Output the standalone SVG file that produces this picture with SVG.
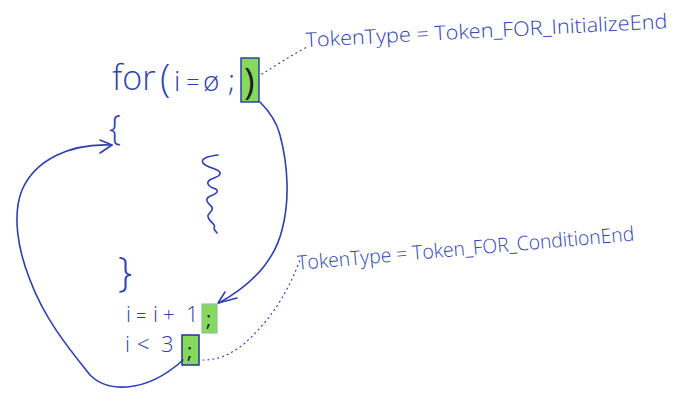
<svg xmlns="http://www.w3.org/2000/svg" width="700" height="405" viewBox="0 0 700 405">
<style>
.code{font-family:"Open Sans","Liberation Sans",sans-serif;font-weight:300;fill:#2f3fae;}
.lbl{font-family:"Open Sans","Liberation Sans",sans-serif;font-weight:300;fill:#2f3fae;font-size:20px;}
.semi{font-family:"Open Sans","Liberation Sans",sans-serif;font-weight:400;fill:#1a1a2a;}
.line{fill:none;stroke:#2f3fae;stroke-width:1.6;stroke-linecap:round;stroke-linejoin:round;}
.dots{fill:none;stroke:#2f3fae;stroke-width:1.2;stroke-dasharray:1 4;stroke-linecap:round;}
.hl{fill:#86d95a;}
</style>
<rect width="700" height="405" fill="#ffffff"/>
<g id="init-code">
  <text class="code" x="112" y="90" font-size="34">for</text>
  <text class="code" x="160" y="92" font-size="38">(</text>
  <text class="code" x="174" y="91" font-size="28">i</text>
  <text class="code" x="186" y="91" font-size="24">=</text>
  <text class="code" x="203" y="91" font-size="28">ø</text>
  <text class="code" x="228" y="91" font-size="30">;</text>
  <rect class="hl" x="241" y="58" width="18" height="44" stroke="#2436a8" stroke-width="1.4"/>
  <text class="semi" x="244" y="94" font-size="36">)</text>
</g>
<g id="open-brace">
  <text class="code" x="109" y="140" font-size="34">{</text>
</g>
<g id="body">
  <path class="line" d="M218,155 C210,156 200,158 203,163 C206,168 222,169 220,174 C218,179 206,178 208,184 C210,189 219,188 217,192 C215,196 205,196 207,201 C209,206 214,206 212,210 C210,214 206,214 209,219 C212,224 216,224 214,229 L217,233"/>
</g>
<g id="close-brace">
  <text class="code" x="118" y="286" font-size="40">}</text>
</g>
<g id="increment">
  <text class="code" x="126" y="322" font-size="22">i</text>
  <text class="code" x="136" y="322" font-size="18">=</text>
  <text class="code" x="153" y="322" font-size="22">i</text>
  <text class="code" x="163" y="322" font-size="20">+</text>
  <text class="code" x="186" y="322" font-size="22">1</text>
  <rect class="hl" x="202" y="304" width="15" height="29" stroke="#8fbcaa" stroke-width="1.2"/>
  <text class="semi" x="206" y="326" font-size="20">;</text>
</g>
<g id="condition">
  <text class="code" x="125" y="352" font-size="22">i</text>
  <text class="code" x="137" y="352" font-size="22">&lt;</text>
  <text class="code" x="161" y="352" font-size="22">3</text>
  <rect class="hl" x="182" y="335" width="17" height="30" stroke="#23338f" stroke-width="1.5"/>
  <text class="semi" x="187" y="358" font-size="20">;</text>
</g>
<g id="label-init">
  <text class="lbl" x="306" y="47" textLength="362" lengthAdjust="spacingAndGlyphs" transform="rotate(-3 306 47)">TokenType = Token_FOR_InitializeEnd</text>
</g>
<g id="label-cond">
  <text class="lbl" x="298" y="270" textLength="338" lengthAdjust="spacingAndGlyphs" transform="rotate(-5 298 270)">TokenType = Token_FOR_ConditionEnd</text>
</g>
<g id="connectors">
  <path class="line" d="M260,102 C270,112 277,123 280,135 C288,165 290,200 282,230 C275,258 255,283 219,303"/>
  <path class="line" d="M225,292 L218,303 L237,298" fill="#2f3fae"/>
  <path class="line" d="M183,360 C172,370 152,385 127,387 C112,388 100,385 90,375 C70,350 45,320 30,280 C18,250 12,215 22,190 C35,160 70,143 112,145"/>
  <path class="line" d="M100,140 L112,145 L100,153"/>
  <path class="dots" d="M262,74 C275,66 290,56 307,47"/>
  <path class="dots" d="M203,360 C215,360 228,357 245,343 C265,325 285,300 300,260"/>
</g>
</svg>
